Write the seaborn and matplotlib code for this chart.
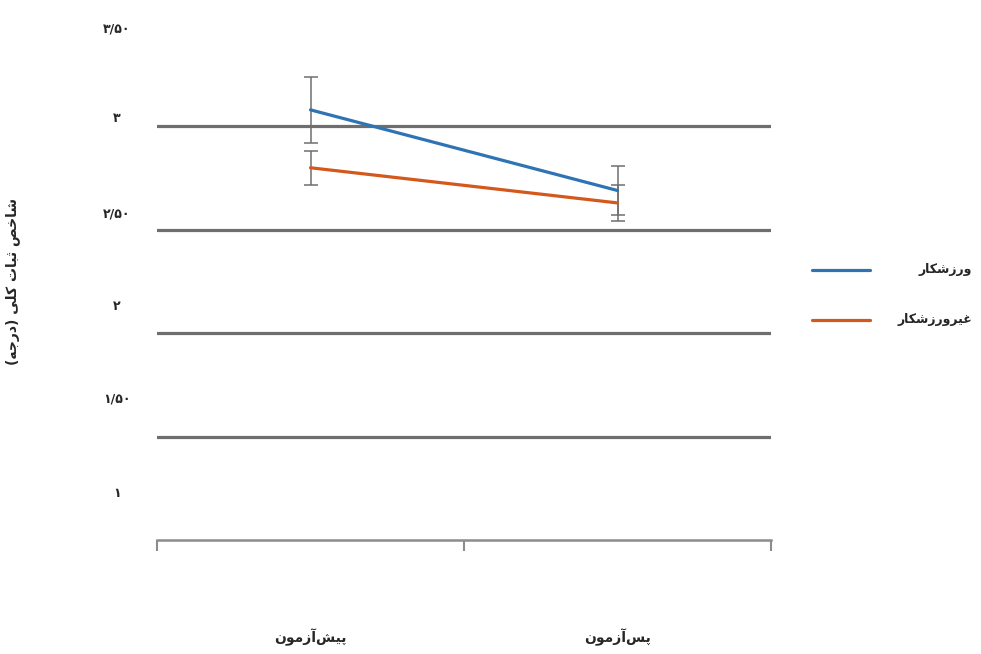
import matplotlib
matplotlib.use("Agg")
import matplotlib.pyplot as plt
from matplotlib.lines import Line2D
from matplotlib.transforms import ScaledTranslation
import seaborn as sns
import pandas as pd

# ---- data -------------------------------------------------------------
phases = ["پیش‌آزمون", "پس‌آزمون"]
groups = ["ورزشکار", "غیرورزشکار"]
athlete_mean = [3.08, 2.69]
athlete_err = [0.16, 0.12]
nonathlete_mean = [2.80, 2.63]
nonathlete_err = [0.083, 0.087]
ytick_values = [1, 1.5, 2, 2.5, 3, 3.5]
ytick_labels = ["۱", "۱/۵۰", "۲", "۲/۵۰", "۳", "۳/۵۰"]
ylabel_text = "شاخص ثبات کلی (درجه)"
colors = ["#2E74B5", "#D4581C"]

# ---- minimal Arabic-script shaping (matplotlib has no text shaping) ----
FORMS = {  # isolated, final, initial, medial
    "ا": ("\uFE8D", "\uFE8E", None, None),
    "آ": ("\uFE81", "\uFE82", None, None),
    "ب": ("\uFE8F", "\uFE90", "\uFE91", "\uFE92"),
    "پ": ("\uFB56", "\uFB57", "\uFB58", "\uFB59"),
    "ت": ("\uFE95", "\uFE96", "\uFE97", "\uFE98"),
    "ث": ("\uFE99", "\uFE9A", "\uFE9B", "\uFE9C"),
    "ج": ("\uFE9D", "\uFE9E", "\uFE9F", "\uFEA0"),
    "خ": ("\uFEA5", "\uFEA6", "\uFEA7", "\uFEA8"),
    "د": ("\uFEA9", "\uFEAA", None, None),
    "ر": ("\uFEAD", "\uFEAE", None, None),
    "ز": ("\uFEAF", "\uFEB0", None, None),
    "س": ("\uFEB1", "\uFEB2", "\uFEB3", "\uFEB4"),
    "ش": ("\uFEB5", "\uFEB6", "\uFEB7", "\uFEB8"),
    "ص": ("\uFEB9", "\uFEBA", "\uFEBB", "\uFEBC"),
    "غ": ("\uFECD", "\uFECE", "\uFECF", "\uFED0"),
    "ک": ("\uFB8E", "\uFB8F", "\uFB90", "\uFB91"),
    "ل": ("\uFEDD", "\uFEDE", "\uFEDF", "\uFEE0"),
    "م": ("\uFEE1", "\uFEE2", "\uFEE3", "\uFEE4"),
    "ن": ("\uFEE5", "\uFEE6", "\uFEE7", "\uFEE8"),
    "ه": ("\uFEE9", "\uFEEA", "\uFEEB", "\uFEEC"),
    "و": ("\uFEED", "\uFEEE", None, None),
    "ی": ("\uFBFC", "\uFBFD", "\uFBFE", "\uFBFF"),
}
MIRROR = {"(": ")", ")": "("}


def shape(text):
    out = []
    n = len(text)
    for i, ch in enumerate(text):
        if ch == "\u200c":
            continue
        if ch not in FORMS:
            out.append(MIRROR.get(ch, ch))
            continue
        prev = text[i - 1] if i > 0 else ""
        nxt = text[i + 1] if i + 1 < n else ""
        join_prev = prev in FORMS and FORMS[prev][2] is not None
        join_next = FORMS[ch][2] is not None and nxt in FORMS
        iso, fin, ini, med = FORMS[ch]
        if join_prev and join_next:
            out.append(med)
        elif join_prev:
            out.append(fin)
        elif join_next:
            out.append(ini)
        else:
            out.append(iso)
    return "".join(reversed(out))


# ---- figure -----------------------------------------------------------
sns.set_style("white")
plt.rcParams["font.family"] = ["DejaVu Sans"]
plt.rcParams["font.weight"] = "bold"

df = pd.DataFrame({
    "phase": phases * 2,
    "group": [groups[0]] * 2 + [groups[1]] * 2,
    "score": athlete_mean + nonathlete_mean,
})

fig = plt.figure(figsize=(9.81, 6.54), dpi=100)
ax = fig.add_axes([157 / 981, 114 / 654, 614 / 981, 517 / 654])

for v in [1.5, 2, 2.5, 3]:
    ax.axhline(v, color="#6e6e6e", lw=0.75, zorder=0)

sns.pointplot(data=df, x="phase", y="score", hue="group", order=phases,
              hue_order=groups, palette=colors, errorbar=None,
              linestyles="-", ax=ax, legend=False)
for line in ax.lines:
    line.set_marker("")
    line.set_linewidth(2.3)
for coll in list(ax.collections):
    coll.remove()

for means, errs in [(athlete_mean, athlete_err), (nonathlete_mean, nonathlete_err)]:
    ax.errorbar([0, 1], means, yerr=errs, fmt="none", ecolor="#6f6f6f",
                elinewidth=1.1, capsize=5, capthick=1.1, zorder=1)

ax.set_xlim(-0.5, 1.5)
ax.set_ylim(1, 3.5)

# y ticks
ax.set_yticks(ytick_values)
ax.set_yticklabels(ytick_labels, fontsize=9, fontweight="bold", ha="center")
ax.tick_params(axis="y", length=0, pad=29)
shift_px = [48, 39, 28, 17, 9, -5]
for lab, dy in zip(ax.get_yticklabels(), shift_px):
    lab.set_transform(lab.get_transform() + ScaledTranslation(0, dy / 100, fig.dpi_scale_trans))

# x ticks: boundary ticks + centred category labels
ax.set_xticks([-0.5, 0.5, 1.5])
ax.set_xticklabels([])
ax.tick_params(axis="x", which="major", bottom=True, length=8, width=1.5,
               color="#8c8c8c", direction="out")
ax.set_xticks([0, 1], minor=True)
ax.set_xticklabels([shape(p) for p in phases], minor=True, fontsize=10, fontweight="bold")
ax.tick_params(axis="x", which="minor", bottom=True, length=0, pad=64)

ax.set_xlabel("")
ax.set_ylabel(shape(ylabel_text), fontsize=10, fontweight="bold")
ax.yaxis.set_label_coords(-0.223, 0.5)

for s in ["top", "right", "left"]:
    ax.spines[s].set_visible(False)
ax.spines["bottom"].set_color("#8c8c8c")
ax.spines["bottom"].set_linewidth(1.8)

# legend at right
for i, (g, c) in enumerate(zip(groups, colors)):
    y = 1 - (270 + 50 * i) / 654
    fig.add_artist(Line2D([812 / 981, 870 / 981], [y, y], color=c, lw=2.3))
    fig.text(972 / 981, y, shape(g), ha="right", va="center", fontsize=9, fontweight="bold")

fig.savefig("out.png", dpi=100)
